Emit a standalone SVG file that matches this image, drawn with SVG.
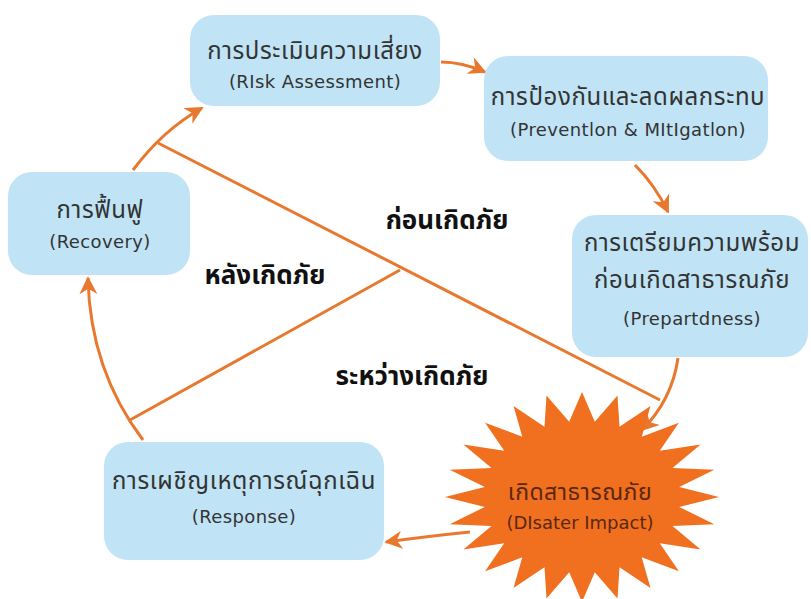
<svg xmlns="http://www.w3.org/2000/svg" width="811" height="599" viewBox="0 0 811 599">
<style>
.box{fill:#c0e4f5;}
.t{font-family:"Noto Sans Thai","Noto Sans","DejaVu Sans",sans-serif;font-size:24px;letter-spacing:0.6px;fill:#333;text-anchor:middle;}
.e{font-family:"DejaVu Sans","Liberation Sans",sans-serif;font-size:18px;letter-spacing:0.4px;fill:#333;text-anchor:middle;}
.lab{font-family:"Noto Sans Thai","Noto Sans","DejaVu Sans",sans-serif;font-size:26px;font-weight:bold;fill:#111;text-anchor:middle;}
.ln{fill:none;stroke:#e8782e;stroke-width:3;}
.st{font-family:"Noto Sans Thai","Noto Sans","DejaVu Sans",sans-serif;font-size:23px;letter-spacing:0.5px;fill:#5a2810;text-anchor:middle;}
.se{font-family:"DejaVu Sans","Liberation Sans",sans-serif;font-size:18px;fill:#5a2810;text-anchor:middle;}
</style>
<defs>
<marker id="ah" viewBox="0 0 10 10" refX="9" refY="5" markerWidth="6" markerHeight="6" orient="auto" markerUnits="strokeWidth">
<path d="M0,0 L10,5 L0,10 L3,5 z" fill="#e8782e"/>
</marker>
</defs>
<rect width="811" height="599" fill="#ffffff"/>
<g id="connectors">
<path class="ln" d="M158,143 L660,400"/>
<path class="ln" d="M400,270 L130,420"/>
<path class="ln" d="M133,170 Q163,130 202,108" marker-end="url(#ah)"/>
<path class="ln" d="M441,62 Q462,62 485,72" marker-end="url(#ah)"/>
<path class="ln" d="M635,165 Q655,185 668,212" marker-end="url(#ah)"/>
<path class="ln" d="M678,358 Q672,400 642,430" marker-end="url(#ah)"/>
<path class="ln" d="M470,532 Q430,536 386,542" marker-end="url(#ah)"/>
<path class="ln" d="M143,440 Q90,370 88,278" marker-end="url(#ah)"/>
</g>
<g id="risk">
<rect class="box" x="190" y="15" width="250" height="91" rx="24"/>
<text class="t" x="315" y="59">การประเมินความเสี่ยง</text>
<text class="e" x="315" y="88">(RIsk Assessment)</text>
</g>
<g id="prevention">
<rect class="box" x="484" y="56" width="284" height="105" rx="24"/>
<text class="t" x="628" y="105">การป้องกันและลดผลกระทบ</text>
<text class="e" x="628" y="136">(Preventlon &amp; MItIgatlon)</text>
</g>
<g id="recovery">
<rect class="box" x="8" y="172" width="182" height="103" rx="24"/>
<text class="t" x="100" y="218">การฟื้นฟู</text>
<text class="e" x="100" y="248">(Recovery)</text>
</g>
<g id="preparedness">
<rect class="box" x="572" y="215" width="236" height="142" rx="24"/>
<text class="t" x="692" y="251">การเตรียมความพร้อม</text>
<text class="t" x="692" y="288">ก่อนเกิดสาธารณภัย</text>
<text class="e" x="692" y="325">(Prepartdness)</text>
</g>
<g id="response">
<rect class="box" x="104" y="442" width="280" height="118" rx="24"/>
<text class="t" x="244" y="489">การเผชิญเหตุการณ์ฉุกเฉิน</text>
<text class="e" x="244" y="523">(Response)</text>
</g>
<g id="disaster">
<polygon fill="#f07020" points="582,392 594.8,421.7 617.5,395.6 619.5,426.8 650.5,406.1 641.7,436.7 678.9,422.8 659.8,450.7 700.6,444.5 672.5,467.9 714.3,469.8 679.2,487.1 719,497 679.2,506.9 714.3,524.2 672.5,526.1 700.6,549.5 659.8,543.3 678.9,571.2 641.7,557.3 650.5,587.9 619.5,567.2 617.5,598.4 594.8,572.3 582,602 569.2,572.3 546.5,598.4 544.5,567.2 513.5,587.9 522.3,557.3 485.1,571.2 504.2,543.3 463.4,549.5 491.5,526.1 449.7,524.2 484.8,506.9 445,497 484.8,487.1 449.7,469.8 491.5,467.9 463.4,444.5 504.2,450.7 485.1,422.8 522.3,436.7 513.5,406.1 544.5,426.8 546.5,395.6 569.2,421.7"/>
<text class="st" x="580" y="500">เกิดสาธารณภัย</text>
<text class="se" x="580" y="529">(DIsater Impact)</text>
</g>
<g id="labels">
<text class="lab" x="447" y="229">ก่อนเกิดภัย</text>
<text class="lab" x="265" y="284">หลังเกิดภัย</text>
<text class="lab" x="412" y="385">ระหว่างเกิดภัย</text>
</g>
</svg>
